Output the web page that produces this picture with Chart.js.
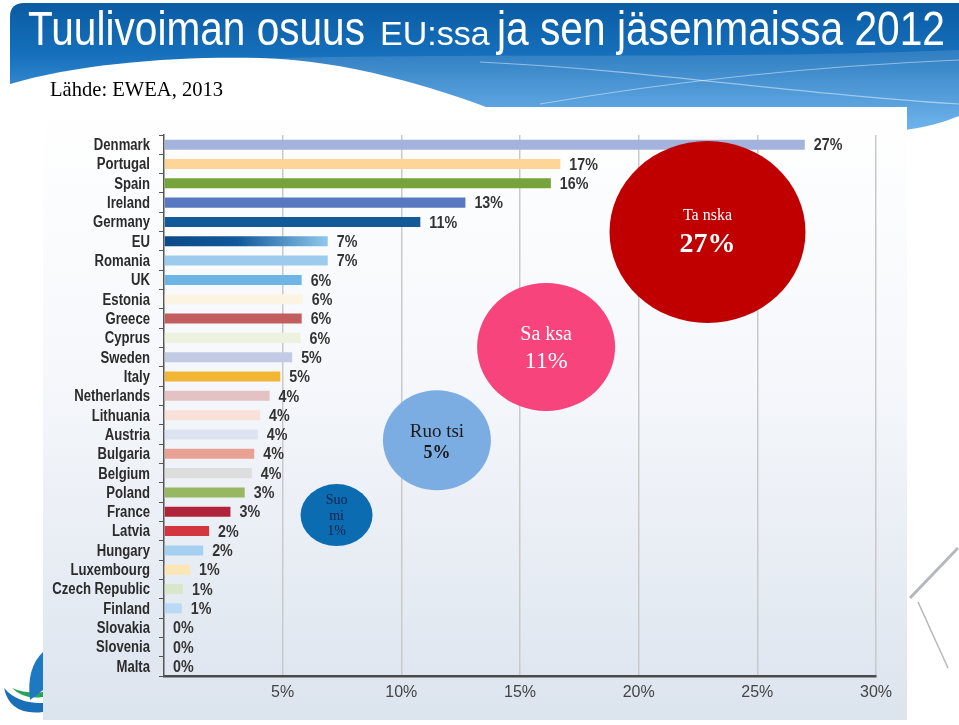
<!DOCTYPE html>
<html>
<head>
<meta charset="utf-8">
<title>Tuulivoiman osuus EU:ssa ja sen jäsenmaissa 2012</title>
<script src="https://cdn.jsdelivr.net/npm/chart.js@4/dist/chart.umd.min.js"></script>
<style>
  html, body { margin: 0; padding: 0; background: #fff; }
  canvas { display: block; }
</style>
</head>
<body>
<canvas id="myChart" width="959" height="725"></canvas>
<script>
// data (Lähde: EWEA, 2013)
const maat = ['Denmark', 'Portugal', 'Spain', 'Ireland', 'Germany', 'EU', 'Romania', 'UK', 'Estonia', 'Greece',
  'Cyprus', 'Sweden', 'Italy', 'Netherlands', 'Lithuania', 'Austria', 'Bulgaria', 'Belgium', 'Poland', 'France',
  'Latvia', 'Hungary', 'Luxembourg', 'Czech Republic', 'Finland', 'Slovakia', 'Slovenia', 'Malta'];
const osuudet = [27.0, 16.7, 16.3, 12.7, 10.8, 6.9, 6.9, 5.8, 5.85, 5.8,
  5.75, 5.4, 4.9, 4.45, 4.05, 3.95, 3.8, 3.7, 3.4, 2.8,
  1.9, 1.65, 1.1, 0.8, 0.75, 0, 0, 0];
const xTicks = [0, 5, 10, 15, 20, 25, 30];

// kuplat: nimi + maa jonka osuus näytetään
const kuplaNimet = [['Ta nska'], ['Sa ksa'], ['Ruo tsi'], ['Suo', 'mi']];
const kuplaMaat = ['Denmark', 'Germany', 'Sweden', 'Finland'];

// värit
const palkkiVarit = ['#a3b3de', '#fcd597', '#76a33a', '#5879c2', '#125a98', 'EU', '#9dcbee', '#6db5e5', '#fcf4e3', '#c25f5e',
  '#edf1e0', '#c2cae4', '#f1b634', '#e2c2c2', '#f9e0d8', '#dce2ef', '#e9a194', '#dcdddd', '#97b762', '#b1233a',
  '#d3363f', '#a5d0f1', '#fde6b5', '#d9e6c9', '#bad9f4', '#cccccc', '#cccccc', '#cccccc'];

const sans = '"Liberation Sans", Arial, sans-serif';
const serif = '"Liberation Serif", "Times New Roman", serif';

// kapea teksti (Arial Narrow -tyyli): piirretään vaakasuunnassa skaalattuna
function kapeaTeksti(ctx, teksti, x, y, font, align, kerroin) {
  ctx.save();
  ctx.font = font;
  ctx.textAlign = align;
  ctx.translate(x, y);
  ctx.scale(kerroin, 1);
  ctx.fillText(teksti, 0, 0);
  ctx.restore();
}

// tausta: otsikkopalkki, kuvan pohja, logo
const taustaPlugin = {
  id: 'tausta',
  beforeDraw(chart) {
    const ctx = chart.ctx;
    ctx.save();
    ctx.fillStyle = '#ffffff';
    ctx.fillRect(0, 0, 959, 725);

    // sininen otsikkopalkki
    ctx.beginPath();
    ctx.moveTo(24, 3);
    ctx.lineTo(959, 3);
    ctx.lineTo(959, 116);
    ctx.quadraticCurveTo(935, 126, 905, 130);
    ctx.lineTo(10, 130);
    ctx.lineTo(10, 17);
    ctx.quadraticCurveTo(10, 3, 24, 3);
    ctx.closePath();
    let g = ctx.createLinearGradient(0, 3, 0, 130);
    g.addColorStop(0, '#0a5ca3');
    g.addColorStop(0.4, '#166fbb');
    g.addColorStop(1, '#5caaea');
    ctx.fillStyle = g;
    ctx.fill();

    // vaaleampi kaari
    ctx.beginPath();
    ctx.moveTo(120, 66);
    ctx.bezierCurveTo(350, 48, 650, 62, 959, 50);
    ctx.lineTo(959, 130);
    ctx.lineTo(120, 130);
    ctx.closePath();
    ctx.fillStyle = 'rgba(255,255,255,0.12)';
    ctx.fill();

    // ohuet viivat
    ctx.strokeStyle = 'rgba(255,255,255,0.45)';
    ctx.lineWidth = 1.2;
    ctx.beginPath();
    ctx.moveTo(540, 104);
    ctx.bezierCurveTo(680, 80, 820, 66, 959, 60);
    ctx.stroke();
    ctx.beginPath();
    ctx.moveTo(480, 62);
    ctx.bezierCurveTo(650, 70, 800, 95, 959, 104);
    ctx.stroke();

    // valkoinen kaari vasemmalla
    ctx.beginPath();
    ctx.moveTo(10, 84);
    ctx.bezierCurveTo(80, 63, 180, 56, 260, 58);
    ctx.bezierCurveTo(350, 61, 430, 86, 500, 112);
    ctx.lineTo(500, 135);
    ctx.lineTo(0, 135);
    ctx.lineTo(0, 84);
    ctx.closePath();
    ctx.fillStyle = '#ffffff';
    ctx.fill();

    // otsikko (kapea fontti, EU:ssa pienempänä)
    ctx.fillStyle = '#ffffff';
    ctx.textBaseline = 'alphabetic';
    const osa1 = 'Tuulivoiman osuus';
    const osa3 = 'ja sen jäsenmaissa 2012';
    ctx.font = '48px ' + sans;
    const k1 = 337 / ctx.measureText(osa1).width;
    const k3 = 448 / ctx.measureText(osa3).width;
    kapeaTeksti(ctx, osa1, 28, 45, '48px ' + sans, 'left', k1);
    ctx.font = '34px ' + sans;
    ctx.fillText('EU:ssa', 380, 45);
    kapeaTeksti(ctx, osa3, 497, 45, '48px ' + sans, 'left', k3);

    ctx.fillStyle = '#000000';
    kapeaTeksti(ctx, 'Lähde: EWEA, 2013', 50, 96, '21px ' + serif, 'left', 0.98);

    // logo vasemmassa alakulmassa
    ctx.fillStyle = '#1a6fb9';
    ctx.beginPath();
    ctx.moveTo(4, 688);
    ctx.quadraticCurveTo(10, 716, 43, 712);
    ctx.lineTo(43, 703);
    ctx.quadraticCurveTo(18, 704, 4, 688);
    ctx.fill();
    ctx.fillStyle = '#27a35c';
    ctx.beginPath();
    ctx.moveTo(12, 688);
    ctx.quadraticCurveTo(24, 700, 43, 697);
    ctx.lineTo(43, 692);
    ctx.quadraticCurveTo(26, 694, 12, 688);
    ctx.fill();
    ctx.fillStyle = '#1d79c2';
    ctx.beginPath();
    ctx.moveTo(30, 700);
    ctx.quadraticCurveTo(26, 668, 43, 652);
    ctx.lineTo(43, 690);
    ctx.closePath();
    ctx.fill();

    // tuulimylly-viivat oikealla
    ctx.strokeStyle = '#b4b8bd';
    ctx.lineWidth = 3;
    ctx.beginPath();
    ctx.moveTo(910, 598);
    ctx.lineTo(958, 548);
    ctx.stroke();
    ctx.lineWidth = 1.5;
    ctx.beginPath();
    ctx.moveTo(918, 602);
    ctx.lineTo(948, 668);
    ctx.stroke();

    // kuvan pohja
    g = ctx.createLinearGradient(0, 107, 0, 720);
    g.addColorStop(0, '#ffffff');
    g.addColorStop(0.45, '#f5f7fb');
    g.addColorStop(1, '#dce4ee');
    ctx.fillStyle = g;
    ctx.fillRect(43, 107, 864, 613);
    ctx.restore();
  }
};

// maiden nimet y-akselille + prosenttiluvut palkkien perään
const arvoPlugin = {
  id: 'arvot',
  afterDatasetsDraw(chart) {
    const ctx = chart.ctx;
    const ys = chart.scales.y;
    const meta = chart.getDatasetMeta(0);
    ctx.save();
    ctx.textBaseline = 'middle';
    ctx.fillStyle = '#2b2b2b';
    maat.forEach((maa, i) => {
      kapeaTeksti(ctx, maa, ys.right - 14, ys.getPixelForValue(i) + 1, 'bold 16px ' + sans, 'right', 0.82);
    });
    ctx.fillStyle = '#333333';
    meta.data.forEach((bar, i) => {
      kapeaTeksti(ctx, `${Math.round(osuudet[i])}%`, bar.x + 9, bar.y + 1, 'bold 17px ' + sans, 'left', 0.84);
    });
    ctx.restore();
  }
};

// kuplat (Tanska, Saksa, Ruotsi, Suomi)
const kuplaAsettelu = [
  { x: 22.9, rivi: 4.52, rx: 98, ry: 91, tausta: '#c00000', vari: '#ffffff',
    nimiFont: '16px', nimiY: [-16], pctFont: 'bold 28px', pctY: 13 },
  { x: 16.1, rivi: 10.47, rx: 69, ry: 64, tausta: '#f8447c', vari: '#ffffff',
    nimiFont: '20px', nimiY: [-12], pctFont: '24px', pctY: 15 },
  { x: 11.5, rivi: 15.3, rx: 54, ry: 50, tausta: '#7cade2', vari: '#1a1a1a',
    nimiFont: '19px', nimiY: [-8], pctFont: 'bold 18px', pctY: 13 },
  { x: 7.27, rivi: 19.17, rx: 36, ry: 31, tausta: '#0c6cb2', vari: '#10224a',
    nimiFont: '14px', nimiY: [-15, 1], pctFont: '14px', pctY: 16 }
];
const kuplaPlugin = {
  id: 'kuplat',
  afterDraw(chart) {
    const ctx = chart.ctx;
    const xs = chart.scales.x;
    const ys = chart.scales.y;
    ctx.save();
    ctx.textAlign = 'center';
    ctx.textBaseline = 'middle';
    kuplaAsettelu.forEach((k, i) => {
      const cx = xs.getPixelForValue(k.x);
      const cy = ys.getPixelForValue(k.rivi);
      ctx.beginPath();
      ctx.ellipse(cx, cy, k.rx, k.ry, 0, 0, Math.PI * 2);
      ctx.fillStyle = k.tausta;
      ctx.fill();
      ctx.fillStyle = k.vari;
      ctx.font = k.nimiFont + ' ' + serif;
      kuplaNimet[i].forEach((rivi, j) => ctx.fillText(rivi, cx, cy + k.nimiY[j]));
      const arvo = osuudet[maat.indexOf(kuplaMaat[i])];
      ctx.font = k.pctFont + ' ' + serif;
      ctx.fillText(`${Math.round(arvo)}%`, cx, cy + k.pctY);
    });
    ctx.restore();
  }
};

const ctx = document.getElementById('myChart').getContext('2d');
const myChart = new Chart(ctx, {
  type: 'bar',
  data: {
    labels: maat,
    datasets: [{
      label: 'Tuulivoiman osuus',
      data: osuudet,
      backgroundColor: (c) => {
        const v = palkkiVarit[c.dataIndex];
        if (v !== 'EU') return v;
        const area = c.chart.chartArea;
        if (!area) return '#125a98';
        const loppu = c.chart.scales.x.getPixelForValue(osuudet[c.dataIndex]);
        const gr = c.chart.ctx.createLinearGradient(area.left, 0, loppu, 0);
        gr.addColorStop(0, '#0a4a86');
        gr.addColorStop(0.45, '#11599b');
        gr.addColorStop(1, '#8fc8ee');
        return gr;
      },
      borderWidth: 0,
      barPercentage: 0.52,
      categoryPercentage: 1
    }]
  },
  options: {
    indexAxis: 'y',
    responsive: false,
    devicePixelRatio: 1,
    animation: false,
    layout: { padding: { left: 43, right: 83, top: 135, bottom: 0 } },
    plugins: {
      legend: { display: false },
      tooltip: { enabled: false }
    },
    scales: {
      x: {
        min: 0,
        max: 30,
        afterBuildTicks: (scale) => { scale.ticks = xTicks.map(v => ({ value: v })); },
        afterFit: (scale) => { scale.height = 49; },
        grid: {
          color: (c) => (c.tick && c.tick.value === 0) ? 'rgba(0,0,0,0)' : '#c9c9c9',
          lineWidth: 1.5,
          drawTicks: false
        },
        border: { display: true, color: '#4a4a4a', width: 2.5 },
        ticks: {
          callback: (v) => v === 0 ? '' : `${v}%`,
          color: '#444444',
          font: { family: sans, size: 16 },
          padding: 7,
          maxRotation: 0
        }
      },
      y: {
        afterFit: (scale) => { scale.width = 121; },
        grid: {
          drawOnChartArea: false,
          drawTicks: true,
          tickLength: 5,
          offset: true,
          color: '#555555',
          lineWidth: 1
        },
        border: { display: true, color: '#555555', width: 1.5 },
        ticks: { display: false, autoSkip: false }
      }
    }
  },
  plugins: [taustaPlugin, arvoPlugin, kuplaPlugin]
});
</script>
</body>
</html>
